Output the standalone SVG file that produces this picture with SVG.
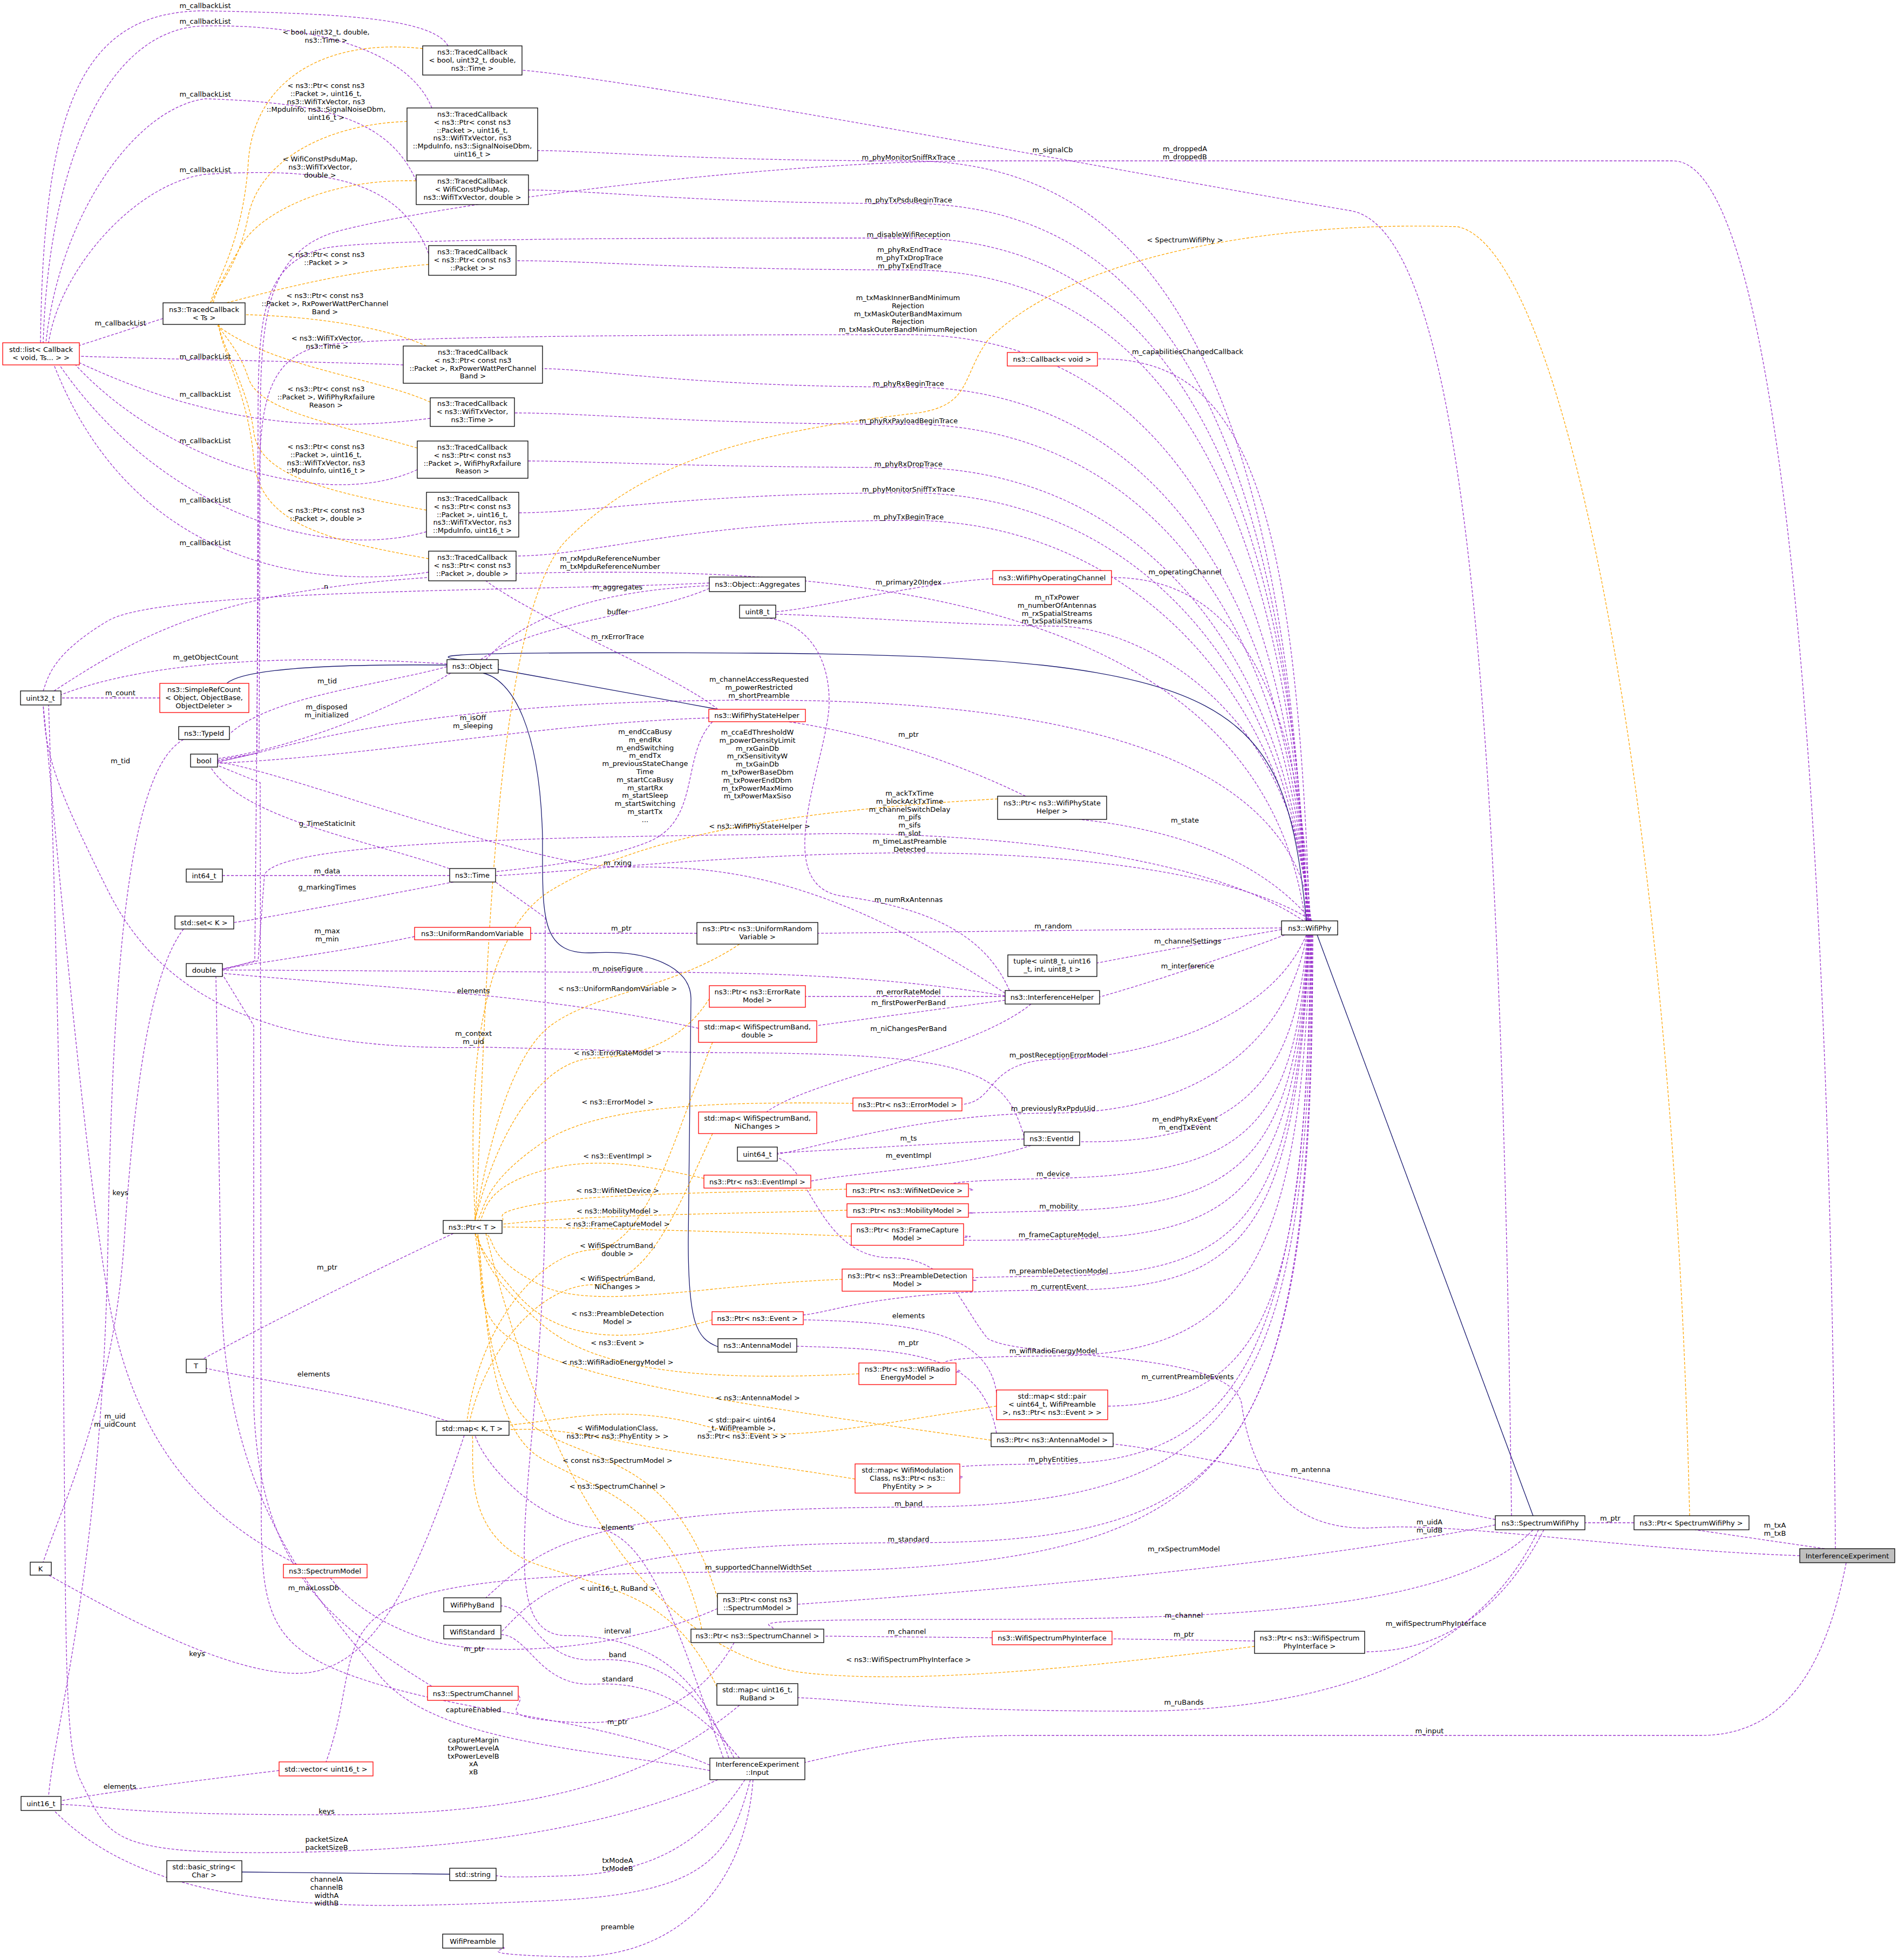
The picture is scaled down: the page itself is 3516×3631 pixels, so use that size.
<svg xmlns="http://www.w3.org/2000/svg" width="3516" height="3631" viewBox="0 0 3516 3631">
<style>
text{font-family:"DejaVu Sans","Liberation Sans",sans-serif;font-size:13px;fill:#000}
.nt{text-anchor:middle}
.el{text-anchor:middle}
rect{fill:#fff;stroke:#000;stroke-width:1.3}
rect.r{stroke:#ff0000}
rect.g{fill:#bfbfbf;stroke:#000}
path{fill:none;stroke-width:1.3}
.e{stroke:#9a32cd;stroke-dasharray:5,3;marker-end:url(#ap)}
.o{stroke:#ffa500;stroke-dasharray:5,3;marker-end:url(#ao)}
.i{stroke:#191970;marker-end:url(#ai)}
</style>
<defs>
<marker id="ap" markerWidth="14" markerHeight="10" refX="13" refY="5" orient="auto" markerUnits="userSpaceOnUse"><path d="M0,0L14,5L0,10z" fill="#9a32cd" stroke="none"/></marker>
<marker id="ao" markerWidth="14" markerHeight="10" refX="13" refY="5" orient="auto" markerUnits="userSpaceOnUse"><path d="M0,0L14,5L0,10z" fill="#ffa500" stroke="none"/></marker>
<marker id="ai" markerWidth="14" markerHeight="10" refX="13" refY="5" orient="auto" markerUnits="userSpaceOnUse"><path d="M0,0L14,5L0,10z" fill="#191970" stroke="none"/></marker>
</defs>
<rect x="0" y="0" width="3516" height="3631" style="fill:#fff;stroke:none"/>
<g id="edges">
<path class="e" d="M830,85 C800,30 600,25 380,20 C150,20 80,200 75,635"/>
<path class="e" d="M800,200 C760,100 600,45 380,48 C200,50 90,300 80,635"/>
<path class="e" d="M771,335 C720,220 600,190 380,183 C250,200 110,400 85,635"/>
<path class="e" d="M794,470 C740,330 600,310 380,323 C250,340 110,500 90,635"/>
<path class="e" d="M747,676 C600,670 400,668 147,660"/>
<path class="e" d="M797,775 C600,800 400,790 147,672"/>
<path class="e" d="M773,870 C600,950 300,850 140,676"/>
<path class="e" d="M790,985 C600,1040 300,950 110,676"/>
<path class="e" d="M794,1060 C600,1090 250,1060 100,676"/>
<path class="e" d="M302,590 L147,640"/>
<path class="o" d="M783,90 C600,70 470,150 460,300 S400,520 390,561"/>
<path class="o" d="M754,225 C600,230 480,300 460,400 S400,530 392,561"/>
<path class="o" d="M771,335 C600,330 480,400 450,450 S400,540 395,561"/>
<path class="o" d="M794,490 C650,500 500,540 420,561"/>
<path class="o" d="M790,641 C700,600 550,585 454,583"/>
<path class="o" d="M797,745 C700,700 500,680 400,601"/>
<path class="o" d="M773,830 C600,780 480,760 460,700 S410,620 405,601"/>
<path class="o" d="M790,945 C600,910 480,880 470,800 S410,640 405,601"/>
<path class="o" d="M794,1035 C600,1000 480,970 470,850 S410,650 405,601"/>
<path class="e" d="M2420,1706 C2380,598 2083,298 1683,298 S1100,279 996,279"/>
<path class="e" d="M2421,1706 C2381,677 2083,377 1683,377 S1100,352 979,352"/>
<path class="e" d="M2422,1706 C2382,806 2083,500 1683,500 S1100,483 956,483"/>
<path class="e" d="M2423,1706 C2383,747 2083,441 1683,441 S700,440 600,460 C480,490 478,600 478,800 L476,1395 L403,1412"/>
<path class="e" d="M2424,1706 C2384,1023 2083,717 1683,717 S1100,683 1005,683"/>
<path class="e" d="M2424,1706 C2384,1092 2083,786 1683,786 S1100,765 953,765"/>
<path class="e" d="M2425,1706 C2385,1172 2083,866 1683,866 S1100,854 978,854"/>
<path class="e" d="M2425,1706 C2385,1219 2083,913 1683,913 S1100,950 961,950"/>
<path class="e" d="M2426,1706 C2386,1270 2083,964 1683,964 S1100,1030 956,1030"/>
<path class="e" d="M2423,1706 C2383,926 2083,620 1682,620 S700,622 600,640 C490,660 482,760 480,900 L472,1780 L412,1797"/>
<path class="e" d="M2426,1706 C2400,900 2300,660 2033,665"/>
<path class="e" d="M2427,1706 C2410,1300 2300,1068 2059,1070"/>
<path class="e" d="M1839,1072 C1700,1080 1500,1130 1437,1133"/>
<path class="e" d="M2428,1706 C2400,1300 2100,1160 1958,1160 S1500,1138 1437,1138"/>
<path class="i" d="M2420,1706 C2380,1300 2300,1215 1400,1210 S940,1226 923,1232"/>
<path class="e" d="M2429,1706 C2400,1450 2100,1297 1406,1297 S500,1400 403,1410"/>
<path class="e" d="M2430,1706 Q2300,1550 2000,1518"/>
<path class="e" d="M2431,1706 C2300,1620 2000,1580 1685,1580 S1000,1620 918,1622"/>
<path class="e" d="M2374,1719 L1515,1729"/>
<path class="e" d="M2374,1722 Q2200,1752 2032,1784"/>
<path class="e" d="M2380,1732 Q2200,1800 2037,1847"/>
<path class="e" d="M2420,1732 C2350,1900 2100,1960 1961,1962 S1850,2040 1782,2046"/>
<path class="e" d="M2421,1732 C2380,1950 2200,2062 1951,2062 S1500,2130 1440,2138"/>
<path class="e" d="M2422,1732 C2400,2000 2300,2120 2000,2115"/>
<path class="e" d="M2423,1732 C2400,2100 2300,2175 1951,2183 S1850,2203 1794,2205"/>
<path class="e" d="M2424,1732 C2400,2150 2300,2235 1961,2243 S1850,2247 1794,2247"/>
<path class="e" d="M2425,1732 C2400,2200 2300,2290 1961,2296 S1850,2290 1785,2290"/>
<path class="e" d="M2425,1732 C2400,2260 2300,2360 1961,2364 S1850,2372 1802,2372"/>
<path class="e" d="M2426,1732 C2400,2300 2300,2390 1961,2390 S1550,2430 1488,2436"/>
<path class="e" d="M2427,1732 C2410,2350 2300,2510 1951,2512 S1820,2540 1771,2542"/>
<path class="e" d="M2428,1732 C2420,2400 2350,2600 2052,2605"/>
<path class="e" d="M2429,1732 C2420,2500 2300,2710 1951,2712 S1820,2736 1778,2738"/>
<path class="e" d="M2430,1732 C2425,2600 2300,2790 1683,2792 S1000,2870 900,2960"/>
<path class="e" d="M2431,1732 C2430,2700 2300,2858 1683,2858 S1000,2950 928,3024"/>
<path class="e" d="M2432,1732 C2432,2750 2300,2910 1405,2912 S700,3000 604,3264"/>
<path class="e" d="M1870,1835 C1820,1720 1700,1680 1560,1660 S1536,1400 1536,1300 S1480,1150 1420,1145"/>
<path class="e" d="M1900,1475 Q1683,1370 1460,1337"/>
<path class="o" d="M1848,1480 C1500,1500 1200,1540 1020,1650 S880,2200 880,2261"/>
<path class="e" d="M1862,1840 C1500,1600 1300,1606 1144,1606 S500,1420 403,1412"/>
<path class="e" d="M1862,1845 C1600,1800 1300,1801 1144,1801 S500,1797 412,1797"/>
<path class="e" d="M1862,1846 L1492,1846"/>
<path class="e" d="M1862,1853 L1513,1900"/>
<path class="e" d="M1910,1860 C1800,1950 1500,2000 1420,2060"/>
<path class="e" d="M1294,1905 C1000,1840 700,1830 412,1803"/>
<path class="e" d="M1897,2105 C1860,1980 1800,1950 1300,1950 L900,1940 C500,1950 300,1850 200,1650 S85,1400 80,1306"/>
<path class="e" d="M1897,2110 L1440,2136"/>
<path class="e" d="M1910,2122 C1800,2160 1600,2170 1502,2188"/>
<path class="e" d="M1846,2580 C1830,2470 1700,2450 1488,2445"/>
<path class="e" d="M1846,2655 C1820,2510 1700,2500 1476,2494"/>
<path class="e" d="M1291,1729 L983,1729"/>
<path class="e" d="M768,1735 C650,1760 500,1780 412,1795"/>
<path class="e" d="M1313,1330 C1000,1340 700,1400 403,1414"/>
<path class="e" d="M1320,1337 C1260,1400 1300,1520 1200,1560 S950,1610 918,1615"/>
<path class="e" d="M2415,1706 C2200,1560 1700,1540 1500,1545 C1000,1550 520,1560 490,1620 L478,1780 L412,1795"/>
<path class="i" d="M1330,1314 L923,1240"/>
<path class="e" d="M1330,1314 C1250,1250 1000,1150 900,1076"/>
<path class="e" d="M828,1230 C600,1215 300,1215 113,1287"/>
<path class="e" d="M828,1235 C700,1270 500,1290 425,1360"/>
<path class="e" d="M835,1247 C700,1330 500,1395 403,1405"/>
<path class="e" d="M900,1222 C1000,1110 1200,1090 1314,1085"/>
<path class="e" d="M1314,1090 C1200,1140 1000,1150 890,1222"/>
<path class="e" d="M1314,1080 C1000,1095 300,1090 200,1150 S90,1250 80,1280"/>
<path class="e" d="M2418,1706 C2350,1200 1800,1060 1130,1060 S300,1150 100,1280"/>
<path class="i" d="M828,1232 C600,1230 450,1240 420,1266"/>
<path class="e" d="M296,1293 L113,1293"/>
<path class="e" d="M340,1370 C250,1420 210,1700 200,2300 S100,3200 90,3328"/>
<path class="e" d="M840,1612 C700,1560 450,1520 390,1421"/>
<path class="e" d="M833,1622 L412,1622"/>
<path class="e" d="M840,1634 C700,1660 500,1700 433,1709"/>
<path class="e" d="M340,1721 C280,1800 250,2000 230,2300 S110,2800 80,2894"/>
<path class="e" d="M840,2285 C700,2350 500,2450 375,2518"/>
<path class="e" d="M830,2633 C700,2590 500,2560 382,2535"/>
<path class="e" d="M860,2659 C780,2900 700,3100 550,3100 S150,2950 90,2918"/>
<path class="e" d="M550,2898 C400,2820 250,2700 200,2400 S100,1500 80,1306"/>
<path class="e" d="M800,3124 C600,3000 480,2900 470,2600 L470,1900 L412,1805"/>
<path class="e" d="M1329,2980 C1150,3060 900,3070 800,3040 S640,2960 612,2923"/>
<path class="e" d="M1360,3043 C1300,3150 1200,3200 1050,3190 S980,3160 960,3140"/>
<path class="e" d="M1315,3270 C1100,3180 900,3180 700,3120 S484,3000 484,2800 L482,1450 L403,1418"/>
<path class="e" d="M1315,3280 C1100,3240 800,3230 700,3100 S420,2800 410,2400 L400,1809"/>
<path class="e" d="M1350,3257 C1300,3100 1200,3030 1050,3030 S1010,2700 1010,2200 L1010,1700 L918,1634"/>
<path class="e" d="M1360,3257 C1280,3100 1200,3070 1100,3075 S980,2975 928,2975"/>
<path class="e" d="M1370,3257 C1280,3150 1200,3115 1100,3120 S980,3030 928,3028"/>
<path class="e" d="M1340,3257 C1250,3000 1200,2840 1100,2830 S900,2720 880,2659"/>
<path class="e" d="M517,3280 C350,3300 200,3320 113,3336"/>
<path class="e" d="M1370,3159 C1200,3300 1000,3362 605,3362 S200,3345 113,3343"/>
<path class="e" d="M1330,3297 C1100,3400 800,3430 500,3432 S200,3400 150,3300 S140,2800 90,1306"/>
<path class="e" d="M1380,3297 C1300,3420 1200,3470 1050,3475 S940,3475 919,3475"/>
<path class="i" d="M833,3472 L448,3468"/>
<path class="e" d="M1390,3297 C1350,3450 1300,3510 1000,3522 S300,3560 100,3354"/>
<path class="e" d="M1395,3297 C1380,3500 1250,3630 1050,3625 S950,3610 932,3608"/>
<path class="i" d="M2840,2808 L2440,1732"/>
<path class="e" d="M3027,2821 L2936,2821"/>
<path class="e" d="M3380,2869 L3140,2834"/>
<path class="e" d="M3334,2882 C3000,2870 2700,2820 2550,2830 C2400,2840 2320,2750 2300,2600 C2280,2500 1900,2520 1830,2480 C1780,2420 1760,2330 1650,2330 C1520,2330 1500,2160 1440,2145"/>
<path class="e" d="M2770,2815 C2500,2760 2200,2690 2062,2675"/>
<path class="e" d="M2770,2825 C2400,2900 1800,2950 1477,2972"/>
<path class="e" d="M2840,2834 C2700,2980 2300,3000 1800,3000 S1450,3010 1430,3018"/>
<path class="e" d="M1838,3034 L1526,3031"/>
<path class="e" d="M2324,3040 L2060,3036"/>
<path class="e" d="M2860,2834 C2800,2950 2700,3060 2528,3060"/>
<path class="e" d="M2850,2834 C2750,3050 2500,3170 2100,3170 S1600,3150 1478,3145"/>
<path class="e" d="M3420,2895 C3380,3100 3300,3215 3150,3215 L1900,3215 C1700,3215 1600,3240 1491,3265"/>
<path class="e" d="M3400,2869 C3390,1500 3300,300 3100,298 L1800,298 C1400,300 800,380 620,430 C490,470 482,600 482,800 L480,1395 L403,1408"/>
<path class="e" d="M2800,2808 C2780,1200 2700,420 2500,390 C2200,340 1200,150 967,130"/>
<path class="o" d="M3130,2808 C3100,1500 2900,460 2700,420 C2400,410 2000,460 1830,630 C1780,700 1800,750 1700,765 C1400,800 1200,850 1050,1000 S900,2000 880,2261"/>
<path class="o" d="M2324,3050 C2000,3090 1700,3120 1500,3100 C1300,3080 1050,2900 900,2285"/>
<path class="o" d="M1300,3018 C1250,2780 1100,2760 1000,2700 S900,2400 885,2285"/>
<path class="o" d="M1329,2960 C1250,2700 1100,2712 1000,2650 S900,2400 880,2285"/>
<path class="o" d="M1328,3125 C1250,2960 1150,2950 1000,2900 S880,2700 875,2659"/>
<path class="o" d="M1584,2740 C1400,2710 1300,2700 1150,2670 S960,2650 943,2648"/>
<path class="o" d="M1846,2605 C1600,2640 1450,2680 1300,2640 S1050,2630 943,2640"/>
<path class="o" d="M1836,2668 C1500,2620 1200,2580 1030,2520 S900,2400 885,2285"/>
<path class="o" d="M1591,2545 C1300,2560 1100,2540 1000,2450 S900,2330 880,2285"/>
<path class="o" d="M1319,2445 C1200,2480 1050,2500 960,2400 S895,2300 880,2285"/>
<path class="i" d="M1330,2495 C1290,2480 1275,2450 1275,2300 L1280,1850 C1280,1790 1200,1760 1100,1765 C1000,1770 1005,1700 1005,1550 C1000,1350 950,1260 895,1247"/>
<path class="o" d="M1560,2370 C1300,2380 1100,2430 1000,2380 S920,2300 900,2285"/>
<path class="o" d="M1320,2100 C1250,2250 1200,2380 1100,2380 C1000,2380 900,2500 870,2633"/>
<path class="o" d="M1320,1931 C1250,2100 1200,2310 1100,2315 C1000,2320 890,2450 865,2633"/>
<path class="o" d="M1577,2290 C1300,2280 1100,2275 930,2273"/>
<path class="o" d="M1569,2242 C1300,2250 1100,2250 930,2268"/>
<path class="o" d="M1568,2203 C1300,2210 1100,2212 1000,2230 S940,2255 930,2262"/>
<path class="o" d="M1304,2183 C1200,2160 1100,2140 1000,2170 S900,2240 890,2261"/>
<path class="o" d="M1580,2044 C1300,2040 1100,2050 1000,2120 S900,2230 885,2261"/>
<path class="o" d="M1314,1850 C1270,1920 1200,1957 1100,1960 C1000,1965 920,2100 880,2261"/>
<path class="o" d="M1370,1749 C1250,1830 1100,1840 1020,1900 S900,2150 880,2261"/>
<g class="lbl">
<text class="el" x="380" y="15">m_callbackList</text>
<text class="el" x="380" y="44">m_callbackList</text>
<text class="el" x="380" y="179">m_callbackList</text>
<text class="el" x="380" y="319">m_callbackList</text>
<text class="el" x="223" y="603">m_callbackList</text>
<text class="el" x="380" y="665">m_callbackList</text>
<text class="el" x="380" y="735">m_callbackList</text>
<text class="el" x="380" y="821">m_callbackList</text>
<text class="el" x="380" y="931">m_callbackList</text>
<text class="el" x="380" y="1010">m_callbackList</text>
<text class="el" x="604" y="64">&lt; bool, uint32_t, double,<tspan x="604" dy="14.8">ns3::Time &gt;</tspan></text>
<text class="el" x="604" y="163">&lt; ns3::Ptr&lt; const ns3<tspan x="604" dy="14.8">::Packet &gt;, uint16_t,</tspan><tspan x="604" dy="14.8">ns3::WifiTxVector, ns3</tspan><tspan x="604" dy="14.8">::MpduInfo, ns3::SignalNoiseDbm,</tspan><tspan x="604" dy="14.8">uint16_t &gt;</tspan></text>
<text class="el" x="593" y="299">&lt; WifiConstPsduMap,<tspan x="593" dy="14.8">ns3::WifiTxVector,</tspan><tspan x="593" dy="14.8">double &gt;</tspan></text>
<text class="el" x="604" y="476">&lt; ns3::Ptr&lt; const ns3<tspan x="604" dy="14.8">::Packet &gt; &gt;</tspan></text>
<text class="el" x="602" y="552">&lt; ns3::Ptr&lt; const ns3<tspan x="602" dy="14.8">::Packet &gt;, RxPowerWattPerChannel</tspan><tspan x="602" dy="14.8">Band &gt;</tspan></text>
<text class="el" x="606" y="631">&lt; ns3::WifiTxVector,<tspan x="606" dy="14.8">ns3::Time &gt;</tspan></text>
<text class="el" x="604" y="725">&lt; ns3::Ptr&lt; const ns3<tspan x="604" dy="14.8">::Packet &gt;, WifiPhyRxfailure</tspan><tspan x="604" dy="14.8">Reason &gt;</tspan></text>
<text class="el" x="604" y="832">&lt; ns3::Ptr&lt; const ns3<tspan x="604" dy="14.8">::Packet &gt;, uint16_t,</tspan><tspan x="604" dy="14.8">ns3::WifiTxVector, ns3</tspan><tspan x="604" dy="14.8">::MpduInfo, uint16_t &gt;</tspan></text>
<text class="el" x="604" y="950">&lt; ns3::Ptr&lt; const ns3<tspan x="604" dy="14.8">::Packet &gt;, double &gt;</tspan></text>
<text class="el" x="1950" y="282">m_signalCb</text>
<text class="el" x="2195" y="280">m_droppedA<tspan x="2195" dy="14.8">m_droppedB</tspan></text>
<text class="el" x="1683" y="296">m_phyMonitorSniffRxTrace</text>
<text class="el" x="1683" y="375">m_phyTxPsduBeginTrace</text>
<text class="el" x="1683" y="439">m_disableWifiReception</text>
<text class="el" x="2195" y="449">&lt; SpectrumWifiPhy &gt;</text>
<text class="el" x="1685" y="467">m_phyRxEndTrace<tspan x="1685" dy="14.8">m_phyTxDropTrace</tspan><tspan x="1685" dy="14.8">m_phyTxEndTrace</tspan></text>
<text class="el" x="1682" y="556">m_txMaskInnerBandMinimum<tspan x="1682" dy="14.8">Rejection</tspan><tspan x="1682" dy="14.8">m_txMaskOuterBandMaximum</tspan><tspan x="1682" dy="14.8">Rejection</tspan><tspan x="1682" dy="14.8">m_txMaskOuterBandMinimumRejection</tspan></text>
<text class="el" x="2200" y="656">m_capabilitiesChangedCallback</text>
<text class="el" x="1683" y="715">m_phyRxBeginTrace</text>
<text class="el" x="1683" y="784">m_phyRxPayloadBeginTrace</text>
<text class="el" x="1683" y="864">m_phyRxDropTrace</text>
<text class="el" x="1683" y="911">m_phyMonitorSniffTxTrace</text>
<text class="el" x="1683" y="962">m_phyTxBeginTrace</text>
<text class="el" x="1130" y="1039">m_rxMpduReferenceNumber<tspan x="1130" dy="14.8">m_txMpduReferenceNumber</tspan></text>
<text class="el" x="2195" y="1064">m_operatingChannel</text>
<text class="el" x="1144" y="1092">m_aggregates</text>
<text class="el" x="604" y="1091">n</text>
<text class="el" x="1683" y="1083">m_primary20Index</text>
<text class="el" x="1958" y="1111">m_nTxPower<tspan x="1958" dy="14.8">m_numberOfAntennas</tspan><tspan x="1958" dy="14.8">m_rxSpatialStreams</tspan><tspan x="1958" dy="14.8">m_txSpatialStreams</tspan></text>
<text class="el" x="1144" y="1138">buffer</text>
<text class="el" x="1144" y="1184">m_rxErrorTrace</text>
<text class="el" x="381" y="1222">m_getObjectCount</text>
<text class="el" x="1406" y="1263">m_channelAccessRequested<tspan x="1406" dy="14.8">m_powerRestricted</tspan><tspan x="1406" dy="14.8">m_shortPreamble</tspan></text>
<text class="el" x="606" y="1266">m_tid</text>
<text class="el" x="223" y="1288">m_count</text>
<text class="el" x="605" y="1314">m_disposed<tspan x="605" dy="14.8">m_initialized</tspan></text>
<text class="el" x="876" y="1334">m_isOff<tspan x="876" dy="14.8">m_sleeping</tspan></text>
<text class="el" x="1683" y="1365">m_ptr</text>
<text class="el" x="1195" y="1360">m_endCcaBusy<tspan x="1195" dy="14.8">m_endRx</tspan><tspan x="1195" dy="14.8">m_endSwitching</tspan><tspan x="1195" dy="14.8">m_endTx</tspan><tspan x="1195" dy="14.8">m_previousStateChange</tspan><tspan x="1195" dy="14.8">Time</tspan><tspan x="1195" dy="14.8">m_startCcaBusy</tspan><tspan x="1195" dy="14.8">m_startRx</tspan><tspan x="1195" dy="14.8">m_startSleep</tspan><tspan x="1195" dy="14.8">m_startSwitching</tspan><tspan x="1195" dy="14.8">m_startTx</tspan><tspan x="1195" dy="14.8">...</tspan></text>
<text class="el" x="1403" y="1361">m_ccaEdThresholdW<tspan x="1403" dy="14.8">m_powerDensityLimit</tspan><tspan x="1403" dy="14.8">m_rxGainDb</tspan><tspan x="1403" dy="14.8">m_rxSensitivityW</tspan><tspan x="1403" dy="14.8">m_txGainDb</tspan><tspan x="1403" dy="14.8">m_txPowerBaseDbm</tspan><tspan x="1403" dy="14.8">m_txPowerEndDbm</tspan><tspan x="1403" dy="14.8">m_txPowerMaxMimo</tspan><tspan x="1403" dy="14.8">m_txPowerMaxSiso</tspan></text>
<text class="el" x="223" y="1414">m_tid</text>
<text class="el" x="1685" y="1474">m_ackTxTime<tspan x="1685" dy="14.8">m_blockAckTxTime</tspan><tspan x="1685" dy="14.8">m_channelSwitchDelay</tspan><tspan x="1685" dy="14.8">m_pifs</tspan><tspan x="1685" dy="14.8">m_sifs</tspan><tspan x="1685" dy="14.8">m_slot</tspan><tspan x="1685" dy="14.8">m_timeLastPreamble</tspan><tspan x="1685" dy="14.8">Detected</tspan></text>
<text class="el" x="2195" y="1524">m_state</text>
<text class="el" x="606" y="1530">g_TimeStaticInit</text>
<text class="el" x="1407" y="1535">&lt; ns3::WifiPhyStateHelper &gt;</text>
<text class="el" x="1144" y="1603">m_rxing</text>
<text class="el" x="606" y="1618">m_data</text>
<text class="el" x="606" y="1648">g_markingTimes</text>
<text class="el" x="1683" y="1671">m_numRxAntennas</text>
<text class="el" x="1951" y="1720">m_random</text>
<text class="el" x="1151" y="1724">m_ptr</text>
<text class="el" x="606" y="1729">m_max<tspan x="606" dy="14.8">m_min</tspan></text>
<text class="el" x="2200" y="1748">m_channelSettings</text>
<text class="el" x="2200" y="1794">m_interference</text>
<text class="el" x="1144" y="1799">m_noiseFigure</text>
<text class="el" x="1144" y="1836">&lt; ns3::UniformRandomVariable &gt;</text>
<text class="el" x="877" y="1840">elements</text>
<text class="el" x="1683" y="1842">m_errorRateModel</text>
<text class="el" x="1683" y="1862">m_firstPowerPerBand</text>
<text class="el" x="1683" y="1910">m_niChangesPerBand</text>
<text class="el" x="877" y="1919">m_context<tspan x="877" dy="14.8">m_uid</tspan></text>
<text class="el" x="1144" y="1955">&lt; ns3::ErrorRateModel &gt;</text>
<text class="el" x="1961" y="1959">m_postReceptionErrorModel</text>
<text class="el" x="1144" y="2046">&lt; ns3::ErrorModel &gt;</text>
<text class="el" x="1951" y="2058">m_previouslyRxPpduUid</text>
<text class="el" x="2195" y="2078">m_endPhyRxEvent<tspan x="2195" dy="14.8">m_endTxEvent</tspan></text>
<text class="el" x="1683" y="2113">m_ts</text>
<text class="el" x="1144" y="2146">&lt; ns3::EventImpl &gt;</text>
<text class="el" x="1683" y="2145">m_eventImpl</text>
<text class="el" x="1951" y="2179">m_device</text>
<text class="el" x="1144" y="2210">&lt; ns3::WifiNetDevice &gt;</text>
<text class="el" x="223" y="2214">keys</text>
<text class="el" x="1961" y="2239">m_mobility</text>
<text class="el" x="1144" y="2248">&lt; ns3::MobilityModel &gt;</text>
<text class="el" x="1144" y="2272">&lt; ns3::FrameCaptureModel &gt;</text>
<text class="el" x="1961" y="2292">m_frameCaptureModel</text>
<text class="el" x="1144" y="2312">&lt; WifiSpectrumBand,<tspan x="1144" dy="14.8">double &gt;</tspan></text>
<text class="el" x="606" y="2352">m_ptr</text>
<text class="el" x="1961" y="2359">m_preambleDetectionModel</text>
<text class="el" x="1144" y="2373">&lt; WifiSpectrumBand,<tspan x="1144" dy="14.8">NiChanges &gt;</tspan></text>
<text class="el" x="1961" y="2388">m_currentEvent</text>
<text class="el" x="1144" y="2438">&lt; ns3::PreambleDetection<tspan x="1144" dy="14.8">Model &gt;</tspan></text>
<text class="el" x="1683" y="2442">elements</text>
<text class="el" x="1144" y="2492">&lt; ns3::Event &gt;</text>
<text class="el" x="1683" y="2492">m_ptr</text>
<text class="el" x="1951" y="2507">m_wifiRadioEnergyModel</text>
<text class="el" x="1144" y="2528">&lt; ns3::WifiRadioEnergyModel &gt;</text>
<text class="el" x="581" y="2550">elements</text>
<text class="el" x="2200" y="2555">m_currentPreambleEvents</text>
<text class="el" x="1404" y="2594">&lt; ns3::AntennaModel &gt;</text>
<text class="el" x="213" y="2628">m_uid<tspan x="213" dy="14.8">m_uidCount</tspan></text>
<text class="el" x="1374" y="2635">&lt; std::pair&lt; uint64<tspan x="1374" dy="14.8">_t, WifiPreamble &gt;,</tspan><tspan x="1374" dy="14.8">ns3::Ptr&lt; ns3::Event &gt; &gt;</tspan></text>
<text class="el" x="1144" y="2650">&lt; WifiModulationClass,<tspan x="1144" dy="14.8">ns3::Ptr&lt; ns3::PhyEntity &gt; &gt;</tspan></text>
<text class="el" x="1951" y="2708">m_phyEntities</text>
<text class="el" x="1144" y="2710">&lt; const ns3::SpectrumModel &gt;</text>
<text class="el" x="2428" y="2727">m_antenna</text>
<text class="el" x="1144" y="2758">&lt; ns3::SpectrumChannel &gt;</text>
<text class="el" x="1683" y="2790">m_band</text>
<text class="el" x="2983" y="2817">m_ptr</text>
<text class="el" x="2648" y="2824">m_uidA<tspan x="2648" dy="14.8">m_uidB</tspan></text>
<text class="el" x="3288" y="2830">m_txA<tspan x="3288" dy="14.8">m_txB</tspan></text>
<text class="el" x="1144" y="2834">elements</text>
<text class="el" x="1683" y="2856">m_standard</text>
<text class="el" x="2193" y="2874">m_rxSpectrumModel</text>
<text class="el" x="1405" y="2908">m_supportedChannelWidthSet</text>
<text class="el" x="581" y="2946">m_maxLossDb</text>
<text class="el" x="1144" y="2947">&lt; uint16_t, RuBand &gt;</text>
<text class="el" x="2193" y="2997">m_channel</text>
<text class="el" x="2660" y="3012">m_wifiSpectrumPhyInterface</text>
<text class="el" x="1144" y="3026">interval</text>
<text class="el" x="1680" y="3027">m_channel</text>
<text class="el" x="2193" y="3032">m_ptr</text>
<text class="el" x="878" y="3059">m_ptr</text>
<text class="el" x="365" y="3068">keys</text>
<text class="el" x="1144" y="3070">band</text>
<text class="el" x="1683" y="3079">&lt; ns3::WifiSpectrumPhyInterface &gt;</text>
<text class="el" x="1144" y="3115">standard</text>
<text class="el" x="2193" y="3158">m_ruBands</text>
<text class="el" x="877" y="3172">captureEnabled</text>
<text class="el" x="1144" y="3194">m_ptr</text>
<text class="el" x="2648" y="3211">m_input</text>
<text class="el" x="877" y="3228">captureMargin<tspan x="877" dy="14.8">txPowerLevelA</tspan><tspan x="877" dy="14.8">txPowerLevelB</tspan><tspan x="877" dy="14.8">xA</tspan><tspan x="877" dy="14.8">xB</tspan></text>
<text class="el" x="222" y="3314">elements</text>
<text class="el" x="605" y="3360">keys</text>
<text class="el" x="605" y="3412">packetSizeA<tspan x="605" dy="14.8">packetSizeB</tspan></text>
<text class="el" x="1144" y="3451">txModeA<tspan x="1144" dy="14.8">txModeB</tspan></text>
<text class="el" x="605" y="3486">channelA<tspan x="605" dy="14.8">channelB</tspan><tspan x="605" dy="14.8">widthA</tspan><tspan x="605" dy="14.8">widthB</tspan></text>
<text class="el" x="1144" y="3574">preamble</text>
</g>
</g>
<g id="n1"><rect class="r" x="5" y="635" width="142" height="41"/><text class="nt" x="76" y="652">std::list&lt; Callback<tspan x="76" dy="14.8">&lt; void, Ts... &gt; &gt;</tspan></text></g>
<g id="n2"><rect x="302" y="561" width="152" height="40"/><text class="nt" x="378" y="578">ns3::TracedCallback<tspan x="378" dy="14.8">&lt; Ts &gt;</tspan></text></g>
<g id="n3"><rect x="783" y="85" width="184" height="54"/><text class="nt" x="875" y="101">ns3::TracedCallback<tspan x="875" dy="14.8">&lt; bool, uint32_t, double,</tspan><tspan x="875" dy="14.8">ns3::Time &gt;</tspan></text></g>
<g id="n4"><rect x="754" y="200" width="242" height="98"/><text class="nt" x="875" y="216">ns3::TracedCallback<tspan x="875" dy="14.8">&lt; ns3::Ptr&lt; const ns3</tspan><tspan x="875" dy="14.8">::Packet &gt;, uint16_t,</tspan><tspan x="875" dy="14.8">ns3::WifiTxVector, ns3</tspan><tspan x="875" dy="14.8">::MpduInfo, ns3::SignalNoiseDbm,</tspan><tspan x="875" dy="14.8">uint16_t &gt;</tspan></text></g>
<g id="n5"><rect x="771" y="324" width="208" height="55"/><text class="nt" x="875" y="340">ns3::TracedCallback<tspan x="875" dy="14.8">&lt; WifiConstPsduMap,</tspan><tspan x="875" dy="14.8">ns3::WifiTxVector, double &gt;</tspan></text></g>
<g id="n6"><rect x="794" y="455" width="162" height="55"/><text class="nt" x="875" y="471">ns3::TracedCallback<tspan x="875" dy="14.8">&lt; ns3::Ptr&lt; const ns3</tspan><tspan x="875" dy="14.8">::Packet &gt; &gt;</tspan></text></g>
<g id="n7"><rect x="747" y="641" width="258" height="69"/><text class="nt" x="876" y="657">ns3::TracedCallback<tspan x="876" dy="14.8">&lt; ns3::Ptr&lt; const ns3</tspan><tspan x="876" dy="14.8">::Packet &gt;, RxPowerWattPerChannel</tspan><tspan x="876" dy="14.8">Band &gt;</tspan></text></g>
<g id="n8"><rect x="797" y="737" width="156" height="53"/><text class="nt" x="875" y="752">ns3::TracedCallback<tspan x="875" dy="14.8">&lt; ns3::WifiTxVector,</tspan><tspan x="875" dy="14.8">ns3::Time &gt;</tspan></text></g>
<g id="n9"><rect x="773" y="817" width="205" height="69"/><text class="nt" x="875" y="833">ns3::TracedCallback<tspan x="875" dy="14.8">&lt; ns3::Ptr&lt; const ns3</tspan><tspan x="875" dy="14.8">::Packet &gt;, WifiPhyRxfailure</tspan><tspan x="875" dy="14.8">Reason &gt;</tspan></text></g>
<g id="n10"><rect x="790" y="912" width="171" height="83"/><text class="nt" x="875" y="928">ns3::TracedCallback<tspan x="875" dy="14.8">&lt; ns3::Ptr&lt; const ns3</tspan><tspan x="875" dy="14.8">::Packet &gt;, uint16_t,</tspan><tspan x="875" dy="14.8">ns3::WifiTxVector, ns3</tspan><tspan x="875" dy="14.8">::MpduInfo, uint16_t &gt;</tspan></text></g>
<g id="n11"><rect x="794" y="1021" width="162" height="55"/><text class="nt" x="875" y="1037">ns3::TracedCallback<tspan x="875" dy="14.8">&lt; ns3::Ptr&lt; const ns3</tspan><tspan x="875" dy="14.8">::Packet &gt;, double &gt;</tspan></text></g>
<g id="n12"><rect x="1314" y="1069" width="178" height="27"/><text class="nt" x="1403" y="1087">ns3::Object::Aggregates</text></g>
<g id="n13"><rect x="1370" y="1121" width="67" height="24"/><text class="nt" x="1403" y="1138">uint8_t</text></g>
<g id="n14"><rect class="r" x="1839" y="1057" width="220" height="26"/><text class="nt" x="1949" y="1075">ns3::WifiPhyOperatingChannel</text></g>
<g id="n15"><rect class="r" x="1866" y="653" width="167" height="25"/><text class="nt" x="1949" y="670">ns3::Callback&lt; void &gt;</text></g>
<g id="n16"><rect x="38" y="1280" width="75" height="26"/><text class="nt" x="75" y="1298">uint32_t</text></g>
<g id="n17"><rect class="r" x="296" y="1266" width="165" height="54"/><text class="nt" x="378" y="1282">ns3::SimpleRefCount<tspan x="378" dy="14.8">&lt; Object, ObjectBase,</tspan><tspan x="378" dy="14.8">ObjectDeleter &gt;</tspan></text></g>
<g id="n18"><rect x="828" y="1222" width="95" height="25"/><text class="nt" x="875" y="1239">ns3::Object</text></g>
<g id="n19"><rect x="331" y="1346" width="94" height="24"/><text class="nt" x="378" y="1363">ns3::TypeId</text></g>
<g id="n20"><rect x="353" y="1397" width="50" height="24"/><text class="nt" x="378" y="1414">bool</text></g>
<g id="n21"><rect class="r" x="1313" y="1314" width="179" height="23"/><text class="nt" x="1402" y="1330">ns3::WifiPhyStateHelper</text></g>
<g id="n22"><rect x="1848" y="1475" width="202" height="43"/><text class="nt" x="1949" y="1492">ns3::Ptr&lt; ns3::WifiPhyState<tspan x="1949" dy="14.8">Helper &gt;</tspan></text></g>
<g id="n23"><rect x="345" y="1610" width="67" height="24"/><text class="nt" x="378" y="1627">int64_t</text></g>
<g id="n24"><rect x="833" y="1609" width="85" height="25"/><text class="nt" x="875" y="1626">ns3::Time</text></g>
<g id="n25"><rect x="324" y="1697" width="109" height="24"/><text class="nt" x="378" y="1714">std::set&lt; K &gt;</text></g>
<g id="n26"><rect class="r" x="768" y="1718" width="215" height="23"/><text class="nt" x="875" y="1734">ns3::UniformRandomVariable</text></g>
<g id="n27"><rect x="1291" y="1709" width="224" height="40"/><text class="nt" x="1403" y="1725">ns3::Ptr&lt; ns3::UniformRandom<tspan x="1403" dy="14.8">Variable &gt;</tspan></text></g>
<g id="n28"><rect x="2374" y="1706" width="104" height="26"/><text class="nt" x="2426" y="1724">ns3::WifiPhy</text></g>
<g id="n29"><rect x="1867" y="1769" width="165" height="40"/><text class="nt" x="1949" y="1785">tuple&lt; uint8_t, uint16<tspan x="1949" dy="14.8">_t, int, uint8_t &gt;</tspan></text></g>
<g id="n30"><rect x="345" y="1785" width="67" height="24"/><text class="nt" x="378" y="1802">double</text></g>
<g id="n31"><rect x="1862" y="1835" width="175" height="25"/><text class="nt" x="1949" y="1852">ns3::InterferenceHelper</text></g>
<g id="n32"><rect class="r" x="1314" y="1826" width="178" height="40"/><text class="nt" x="1403" y="1842">ns3::Ptr&lt; ns3::ErrorRate<tspan x="1403" dy="14.8">Model &gt;</tspan></text></g>
<g id="n33"><rect class="r" x="1294" y="1891" width="219" height="40"/><text class="nt" x="1403" y="1907">std::map&lt; WifiSpectrumBand,<tspan x="1403" dy="14.8">double &gt;</tspan></text></g>
<g id="n34"><rect class="r" x="1580" y="2034" width="202" height="24"/><text class="nt" x="1681" y="2051">ns3::Ptr&lt; ns3::ErrorModel &gt;</text></g>
<g id="n35"><rect class="r" x="1294" y="2060" width="219" height="40"/><text class="nt" x="1403" y="2076">std::map&lt; WifiSpectrumBand,<tspan x="1403" dy="14.8">NiChanges &gt;</tspan></text></g>
<g id="n36"><rect x="1366" y="2125" width="74" height="26"/><text class="nt" x="1403" y="2143">uint64_t</text></g>
<g id="n37"><rect x="1897" y="2097" width="103" height="25"/><text class="nt" x="1948" y="2114">ns3::EventId</text></g>
<g id="n38"><rect class="r" x="1304" y="2177" width="198" height="24"/><text class="nt" x="1403" y="2194">ns3::Ptr&lt; ns3::EventImpl &gt;</text></g>
<g id="n39"><rect class="r" x="1568" y="2193" width="226" height="24"/><text class="nt" x="1681" y="2210">ns3::Ptr&lt; ns3::WifiNetDevice &gt;</text></g>
<g id="n40"><rect class="r" x="1569" y="2230" width="225" height="25"/><text class="nt" x="1681" y="2247">ns3::Ptr&lt; ns3::MobilityModel &gt;</text></g>
<g id="n41"><rect class="r" x="1577" y="2267" width="208" height="40"/><text class="nt" x="1681" y="2283">ns3::Ptr&lt; ns3::FrameCapture<tspan x="1681" dy="14.8">Model &gt;</tspan></text></g>
<g id="n42"><rect x="821" y="2261" width="109" height="24"/><text class="nt" x="875" y="2278">ns3::Ptr&lt; T &gt;</text></g>
<g id="n43"><rect class="r" x="1560" y="2351" width="242" height="41"/><text class="nt" x="1681" y="2368">ns3::Ptr&lt; ns3::PreambleDetection<tspan x="1681" dy="14.8">Model &gt;</tspan></text></g>
<g id="n44"><rect x="345" y="2518" width="37" height="25"/><text class="nt" x="363" y="2535">T</text></g>
<g id="n45"><rect class="r" x="1319" y="2430" width="169" height="24"/><text class="nt" x="1403" y="2447">ns3::Ptr&lt; ns3::Event &gt;</text></g>
<g id="n46"><rect x="1330" y="2480" width="146" height="25"/><text class="nt" x="1403" y="2497">ns3::AntennaModel</text></g>
<g id="n47"><rect class="r" x="1591" y="2525" width="180" height="40"/><text class="nt" x="1681" y="2541">ns3::Ptr&lt; ns3::WifiRadio<tspan x="1681" dy="14.8">EnergyModel &gt;</tspan></text></g>
<g id="n48"><rect class="r" x="1846" y="2575" width="206" height="55"/><text class="nt" x="1949" y="2591">std::map&lt; std::pair<tspan x="1949" dy="14.8">&lt; uint64_t, WifiPreamble</tspan><tspan x="1949" dy="14.8">&gt;, ns3::Ptr&lt; ns3::Event &gt; &gt;</tspan></text></g>
<g id="n49"><rect x="808" y="2633" width="135" height="26"/><text class="nt" x="875" y="2651">std::map&lt; K, T &gt;</text></g>
<g id="n50"><rect x="1836" y="2655" width="226" height="25"/><text class="nt" x="1949" y="2672">ns3::Ptr&lt; ns3::AntennaModel &gt;</text></g>
<g id="n51"><rect class="r" x="1584" y="2712" width="194" height="54"/><text class="nt" x="1681" y="2728">std::map&lt; WifiModulation<tspan x="1681" dy="14.8">Class, ns3::Ptr&lt; ns3::</tspan><tspan x="1681" dy="14.8">PhyEntity &gt; &gt;</tspan></text></g>
<g id="n52"><rect x="2770" y="2808" width="166" height="26"/><text class="nt" x="2853" y="2826">ns3::SpectrumWifiPhy</text></g>
<g id="n53"><rect x="3027" y="2808" width="213" height="26"/><text class="nt" x="3133" y="2826">ns3::Ptr&lt; SpectrumWifiPhy &gt;</text></g>
<g id="n54"><rect class="g" x="3334" y="2869" width="176" height="26"/><text class="nt" x="3422" y="2887">InterferenceExperiment</text></g>
<g id="n55"><rect x="56" y="2894" width="39" height="24"/><text class="nt" x="75" y="2911">K</text></g>
<g id="n56"><rect class="r" x="525" y="2898" width="155" height="25"/><text class="nt" x="602" y="2915">ns3::SpectrumModel</text></g>
<g id="n57"><rect x="822" y="2960" width="106" height="26"/><text class="nt" x="875" y="2978">WifiPhyBand</text></g>
<g id="n58"><rect x="1329" y="2952" width="148" height="39"/><text class="nt" x="1403" y="2968">ns3::Ptr&lt; const ns3<tspan x="1403" dy="14.8">::SpectrumModel &gt;</tspan></text></g>
<g id="n59"><rect x="822" y="3011" width="106" height="25"/><text class="nt" x="875" y="3028">WifiStandard</text></g>
<g id="n60"><rect x="1280" y="3018" width="246" height="25"/><text class="nt" x="1403" y="3035">ns3::Ptr&lt; ns3::SpectrumChannel &gt;</text></g>
<g id="n61"><rect class="r" x="1838" y="3022" width="222" height="25"/><text class="nt" x="1949" y="3039">ns3::WifiSpectrumPhyInterface</text></g>
<g id="n62"><rect x="2324" y="3022" width="204" height="41"/><text class="nt" x="2426" y="3039">ns3::Ptr&lt; ns3::WifiSpectrum<tspan x="2426" dy="14.8">PhyInterface &gt;</tspan></text></g>
<g id="n63"><rect class="r" x="792" y="3124" width="168" height="26"/><text class="nt" x="876" y="3142">ns3::SpectrumChannel</text></g>
<g id="n64"><rect x="1328" y="3119" width="150" height="40"/><text class="nt" x="1403" y="3135">std::map&lt; uint16_t,<tspan x="1403" dy="14.8">RuBand &gt;</tspan></text></g>
<g id="n65"><rect class="r" x="517" y="3264" width="174" height="26"/><text class="nt" x="604" y="3282">std::vector&lt; uint16_t &gt;</text></g>
<g id="n66"><rect x="1315" y="3257" width="176" height="40"/><text class="nt" x="1403" y="3273">InterferenceExperiment<tspan x="1403" dy="14.8">::Input</tspan></text></g>
<g id="n67"><rect x="39" y="3328" width="74" height="26"/><text class="nt" x="76" y="3346">uint16_t</text></g>
<g id="n68"><rect x="309" y="3447" width="139" height="39"/><text class="nt" x="378" y="3463">std::basic_string&lt;<tspan x="378" dy="14.8">Char &gt;</tspan></text></g>
<g id="n69"><rect x="833" y="3461" width="86" height="23"/><text class="nt" x="876" y="3477">std::string</text></g>
<g id="n70"><rect x="820" y="3583" width="112" height="26"/><text class="nt" x="876" y="3601">WifiPreamble</text></g>
</svg>
